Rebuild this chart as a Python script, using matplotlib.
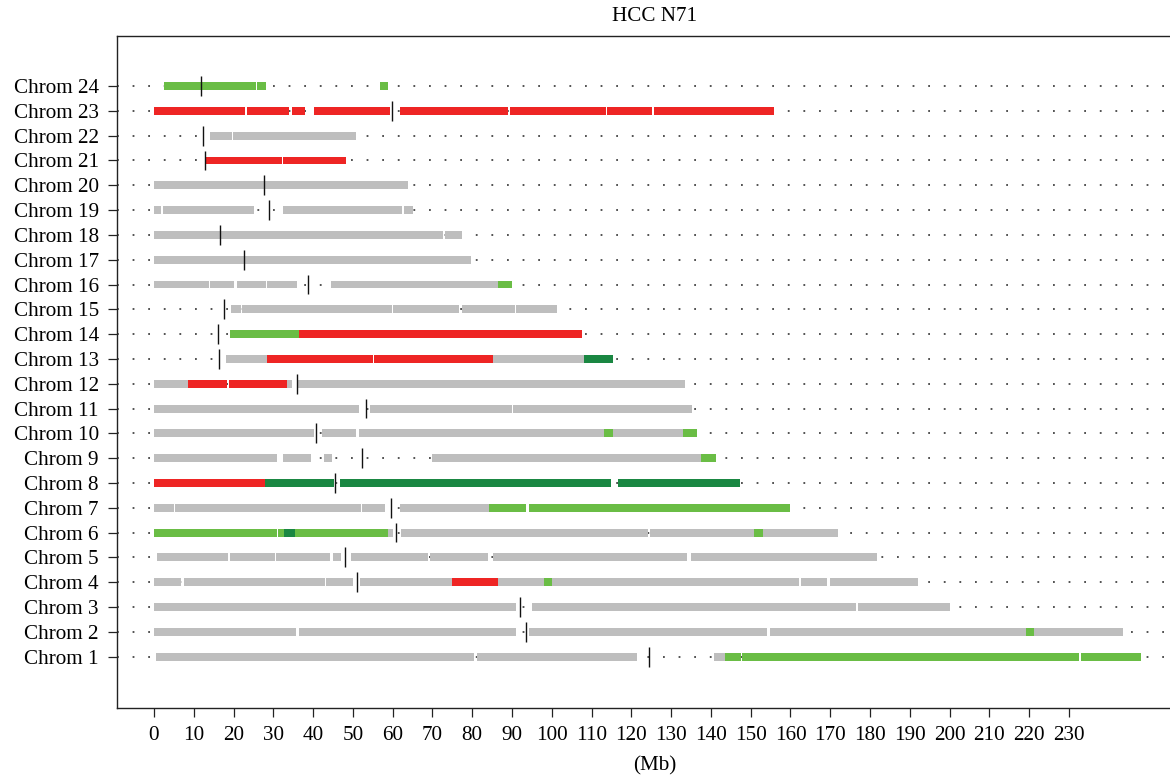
import matplotlib
matplotlib.use("Agg")
import matplotlib.pyplot as plt
import numpy as np

plt.rcParams['font.family'] = ['Liberation Serif', 'DejaVu Serif']

# state colours
COLORS = {'N': '#BEBEBE', 'R': '#EE2524', 'L': '#6ABD45', 'D': '#1A8742'}

# segments per chromosome: (start Mb, end Mb, state)
chr1 = [(0.5, 80.45, 'N'), (81.2, 121.42, 'N'), (140.78, 143.5, 'N'), (143.5, 147.59, 'L'),
        (147.78, 232.52, 'L'), (233.01, 248.09, 'L')]
chr2 = [(0, 35.70, 'N'), (36.45, 91.0, 'N'), (94.27, 154.11, 'N'), (154.79, 219.19, 'N'),
        (219.19, 221.14, 'L'), (221.14, 243.51, 'N')]
chr3 = [(0, 91.0, 'N'), (95.03, 176.48, 'N'), (176.97, 200.03, 'N')]
chr4 = [(0, 6.79, 'N'), (7.54, 42.99, 'N'), (43.24, 50.03, 'N'), (51.79, 74.92, 'N'),
        (74.92, 86.48, 'R'), (86.48, 98.04, 'N'), (98.04, 100.05, 'L'), (100.05, 162.09, 'N'),
        (162.67, 169.19, 'N'), (169.87, 192.05, 'N')]
chr5 = [(0.76, 18.60, 'N'), (19.11, 30.42, 'N'), (30.67, 44.25, 'N'), (45.0, 47.01, 'N'),
        (49.52, 68.88, 'N'), (69.38, 83.96, 'N'), (85.22, 133.97, 'N'), (134.94, 181.74, 'N')]
chr6 = [(0, 30.92, 'L'), (31.17, 32.68, 'L'), (32.68, 35.45, 'D'), (35.45, 58.83, 'L'),
        (58.83, 60.08, 'N'), (62.09, 124.14, 'N'), (124.63, 150.8, 'N'), (150.8, 153.04, 'L'),
        (153.04, 171.91, 'N')]
chr7 = [(0, 5.03, 'N'), (5.28, 52.04, 'N'), (52.29, 58.07, 'N'), (61.84, 84.21, 'N'),
        (84.21, 93.52, 'L'), (94.27, 159.85, 'L')]
chr8 = [(0, 27.82, 'R'), (27.82, 45.25, 'D'), (46.76, 114.9, 'D'), (116.65, 147.3, 'D')]
chr9 = [(0, 30.92, 'N'), (32.43, 39.47, 'N'), (42.74, 44.75, 'N'), (69.89, 137.47, 'N'),
        (137.47, 141.27, 'L')]
chr10 = [(0, 40.22, 'N'), (42.24, 50.78, 'N'), (51.54, 113.15, 'N'), (113.15, 115.39, 'L'),
         (115.39, 133.0, 'N'), (133.0, 136.5, 'L')]
chr11 = [(0, 51.54, 'N'), (54.30, 90.0, 'N'), (90.25, 135.23, 'N')]
chr12 = [(0, 8.55, 'N'), (8.55, 18.35, 'R'), (18.86, 33.44, 'R'), (33.44, 34.69, 'N'),
         (35.95, 133.48, 'N')]
chr13 = [(18.10, 28.41, 'N'), (28.41, 55.05, 'R'), (55.31, 85.22, 'R'), (85.22, 108.09, 'N'),
         (108.09, 115.39, 'D')]
chr14 = [(19.11, 36.45, 'L'), (36.45, 107.61, 'R')]
chr15 = [(19.36, 21.87, 'N'), (22.12, 59.83, 'N'), (60.08, 76.67, 'N'), (77.43, 90.75, 'N'),
         (91.0, 101.31, 'N')]
chr16 = [(0, 13.83, 'N'), (14.08, 20.11, 'N'), (20.87, 28.16, 'N'), (28.41, 35.95, 'N'),
         (44.50, 86.48, 'N'), (86.48, 90.0, 'L')]
chr17 = [(0, 79.69, 'N')]
chr18 = [(0, 72.65, 'N'), (73.15, 77.43, 'N')]
chr19 = [(0, 1.76, 'N'), (2.26, 25.14, 'N'), (32.43, 62.34, 'N'), (62.85, 65.11, 'N')]
chr20 = [(0, 63.85, 'N')]
chr21 = [(13.07, 32.18, 'R'), (32.43, 48.27, 'R')]
chr22 = [(14.08, 19.61, 'N'), (19.86, 50.78, 'N')]
chr23 = [(0, 22.88, 'R'), (23.38, 33.94, 'R'), (34.69, 37.96, 'R'), (40.22, 59.33, 'R'),
         (61.84, 88.99, 'R'), (89.49, 113.64, 'R'), (113.83, 125.21, 'R'), (125.70, 155.86, 'R')]
chr24 = [(2.51, 25.64, 'L'), (25.89, 28.16, 'L'), (56.81, 58.82, 'L')]

centromeres = [124.53, 93.52, 92.01, 51.03, 48.02, 60.84, 59.50, 45.59, 52.21, 40.73, 53.29, 35.87,
               16.43, 16.01, 17.51, 38.63, 22.63, 16.59, 28.91, 27.57, 12.74, 12.24, 59.83, 11.73]

chrom_labels = [f"Chrom {i}" for i in range(1, 25)]
x_ticks = list(range(0, 231, 10))

segments = [chr1, chr2, chr3, chr4, chr5, chr6, chr7, chr8, chr9, chr10, chr11, chr12,
            chr13, chr14, chr15, chr16, chr17, chr18, chr19, chr20, chr21, chr22, chr23, chr24]

W, H = 1170, 777
fig = plt.figure(figsize=(W / 100, H / 100), dpi=100)
ax_l, ax_r, ax_b, ax_t = 117, 1193, 777 - 707.7, 777 - 35.7
ax = fig.add_axes([ax_l / W, ax_b / H, (ax_r - ax_l) / W, (ax_t - ax_b) / H])

bar_h = 0.32
for i, segs in enumerate(segments):
    y = i + 1
    # dotted guide line
    ax.axhline(y, color='#444444', lw=1.3, linestyle=(0, (1.0, 7.64)), zorder=1)
    for s, e, st in segs:
        ax.barh(y, e - s, left=s, height=bar_h, color=COLORS[st], linewidth=0, zorder=2)
    ax.vlines(centromeres[i], y - 0.4, y + 0.4, color='#111111', lw=1.0, zorder=3)

ax.set_xlim(-9.3, 261.2)
ax.set_ylim(-1.06, 26.03)
ax.set_yticks(range(1, 25))
ax.set_yticklabels(chrom_labels)
ax.set_xticks(x_ticks)
ax.set_xticklabels([str(v) for v in x_ticks])
ax.tick_params(axis='both', direction='out', length=6.5, width=0.9, color='#222222',
               labelsize=15.2)
ax.tick_params(axis='y', pad=6.5)
ax.tick_params(axis='x', pad=6.5)
for sp in ['left', 'bottom', 'top', 'right']:
    ax.spines[sp].set_linewidth(1.0)
    ax.spines[sp].set_color('#222222')

ax.set_title('HCC N71', fontsize=15.2, pad=10.5)
ax.set_xlabel('(Mb)', fontsize=15.2, labelpad=8.5)

fig.savefig('out.png', dpi=100)
